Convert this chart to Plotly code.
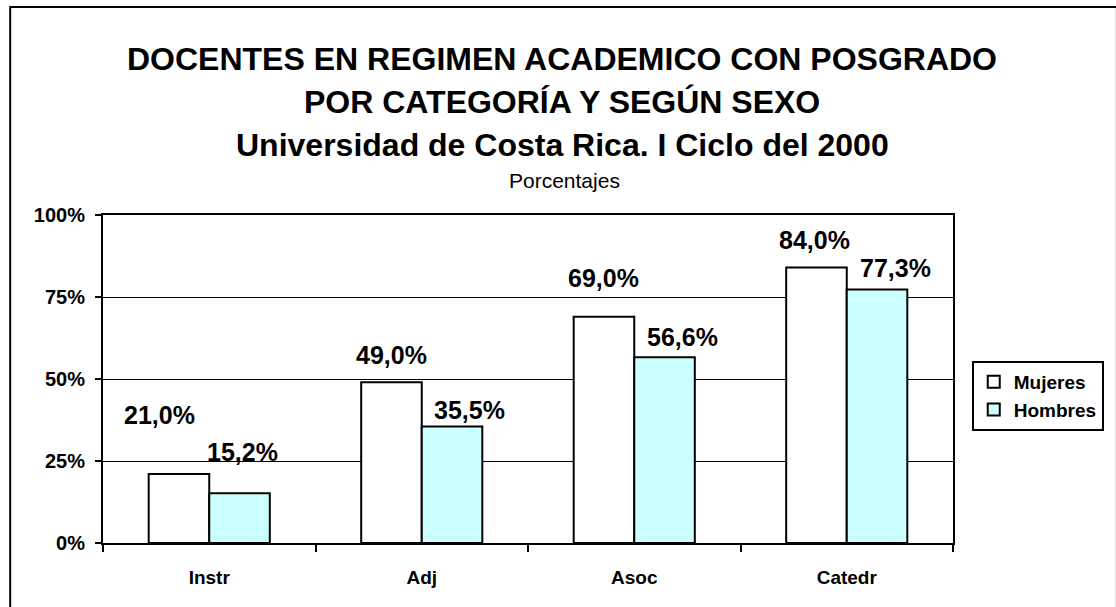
import plotly.graph_objects as go

categories = ["Instr", "Adj", "Asoc", "Catedr"]
mujeres = [21.0, 49.0, 69.0, 84.0]
hombres = [15.2, 35.5, 56.6, 77.3]
y_ticks = [0, 25, 50, 75, 100]
y_tick_labels = ["0%", "25%", "50%", "75%", "100%"]

title_lines = [
    "DOCENTES EN REGIMEN ACADEMICO CON POSGRADO",
    "POR CATEGORÍA Y SEGÚN SEXO",
    "Universidad de Costa Rica. I Ciclo del 2000",
]
subtitle = "Porcentajes"

# ---- styling / layout (pixels) ----
W, H = 1116, 607
L, R, T, B = 103, 964, 215, 543
FONT = "Liberation Sans, Arial, sans-serif"
HALF_BAR = 30.5
# label offsets relative to bar top/center (px), mimicking the original placement
m_dx = [-19, 0, 0, -2]
m_dy = [59, 27, 39, 27]
h_dx = [3, 17, 18, 18]
h_dy = [41, 17, 20, 21]


def px(x):
    return (x - L) / (R - L)


def py(y):
    return (B - y) / (B - T)


def fmt(v):
    return f"{v:.1f}%".replace(".", ",")


fig = go.Figure()
fig.add_trace(go.Bar(
    x=categories, y=mujeres, name="Mujeres",
    marker=dict(color="white", line=dict(color="black", width=2)),
))
fig.add_trace(go.Bar(
    x=categories, y=hombres, name="Hombres",
    marker=dict(color="#CCFFFF", line=dict(color="black", width=2)),
))

annotations = []
for i, c in enumerate(categories):
    annotations.append(dict(
        x=c, y=mujeres[i], xref="x", yref="y", text=fmt(mujeres[i]),
        showarrow=False, xanchor="center", yanchor="middle",
        xshift=-HALF_BAR + m_dx[i], yshift=m_dy[i],
        font=dict(family=FONT, size=25, color="black", weight="bold"),
    ))
    annotations.append(dict(
        x=c, y=hombres[i], xref="x", yref="y", text=fmt(hombres[i]),
        showarrow=False, xanchor="center", yanchor="middle",
        xshift=HALF_BAR + h_dx[i], yshift=h_dy[i],
        font=dict(family=FONT, size=25, color="black", weight="bold"),
    ))

title_y = [59, 102, 145]
for t, yy in zip(title_lines, title_y):
    annotations.append(dict(
        x=px(568), y=py(yy), xref="paper", yref="paper", text=t,
        showarrow=False, xanchor="center", yanchor="middle",
        font=dict(family=FONT, size=32, color="black", weight="bold"),
    ))
annotations.append(dict(
    x=px(570), y=py(181), xref="paper", yref="paper", text=subtitle,
    showarrow=False, xanchor="center", yanchor="middle",
    font=dict(family=FONT, size=21, color="black"),
))

fig.update_layout(
    width=W, height=H,
    margin=dict(l=L, r=W - R, t=T, b=H - B, pad=0),
    paper_bgcolor="white", plot_bgcolor="white",
    barmode="group", bargap=0.43, bargroupgap=0,
    showlegend=True,
    legend=dict(
        x=px(983), y=py(361), xanchor="left", yanchor="top",
        bordercolor="black", borderwidth=2, bgcolor="white",
        font=dict(family=FONT, size=19, color="black", weight="bold"),
        itemwidth=30, tracegroupgap=0,
    ),
    annotations=annotations,
    shapes=[dict(
        type="rect", xref="paper", yref="paper",
        x0=px(9), x1=px(1130), y0=py(620), y1=py(7),
        line=dict(color="black", width=2), fillcolor="rgba(0,0,0,0)",
        layer="below",
    )],
    font=dict(family=FONT, color="black"),
)

fig.update_xaxes(
    showline=True, linecolor="black", linewidth=2, mirror=True,
    ticks="outside", tickson="boundaries", ticklen=7, tickwidth=2, tickcolor="black",
    ticklabelstandoff=16,
    tickfont=dict(family=FONT, size=19, color="black", weight="bold"),
    showgrid=False, fixedrange=True,
)
fig.update_yaxes(
    range=[0, 100], tickvals=y_ticks, ticktext=y_tick_labels,
    showline=True, linecolor="black", linewidth=2, mirror=True,
    ticks="outside", ticklen=6, tickwidth=2, tickcolor="black",
    ticklabelstandoff=6,
    tickfont=dict(family=FONT, size=20, color="black", weight="bold"),
    showgrid=True, gridcolor="black", gridwidth=1, zeroline=False,
    fixedrange=True,
)

fig.write_html(
    "out.html",
    config={"displayModeBar": False},
    post_script="document.body.style.margin='0';document.body.style.overflow='hidden';",
)
